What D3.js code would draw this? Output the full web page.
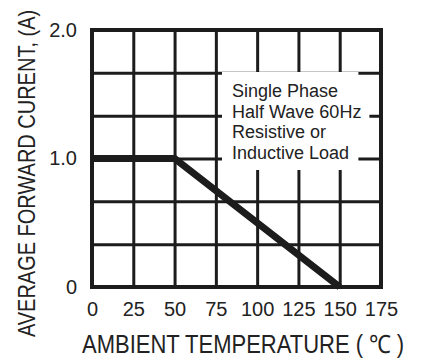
<!DOCTYPE html>
<html>
<head>
<meta charset="utf-8">
<script src="https://cdn.jsdelivr.net/npm/d3@7"></script>
<style>
  body { margin: 0; background: #fff; }
  text { font-family: "Liberation Sans", Arial, sans-serif; fill: #222; }
</style>
</head>
<body>
<div id="app"></div>
<script>

var tempTicks = [0, 25, 50, 75, 100, 125, 150, 175];
var currentTicks = [0, 1, 2];
var currentTickLabels = ["0", "1.0", "2.0"];
var currentGrid = [1/3, 2/3, 1, 4/3, 5/3];

// derating curve
var tempC = [0, 50, 150];
var currentA = [1.0, 1.0, 0];

var noteLines = ["Single Phase", "Half Wave 60Hz", "Resistive or", "Inductive Load"];

var svg = d3.select("#app")
    .append("svg")
    .attr("width", 424)
    .attr("height", 361);

var x = d3.scaleLinear().domain([0, 175]).range([92, 381]);
var y = d3.scaleLinear().domain([0, 2]).range([287, 30]);

var ink = "#1c1c1c";

// vertical grid + x labels
var xAxis = svg.append("g")
    .attr("transform", "translate(0," + y(0) + ")")
    .call(d3.axisBottom(x)
	  .tickValues(tempTicks)
	  .tickSize(-(y(0) - y(2)))
	  .tickPadding(15)
	  .tickFormat(d3.format("d")));
xAxis.select(".domain").remove();
xAxis.selectAll("line").attr("stroke", ink).attr("stroke-width", 3);
xAxis.selectAll("text").style("font-size", "20px").attr("fill", "#222");

// horizontal grid
var yGrid = svg.append("g")
    .attr("transform", "translate(" + x(0) + ",0)")
    .call(d3.axisLeft(y)
	  .tickValues(currentGrid)
	  .tickSize(-(x(175) - x(0)))
	  .tickFormat(""));
yGrid.select(".domain").remove();
yGrid.selectAll("line").attr("stroke", ink).attr("stroke-width", 3);

// y labels
var yAxis = svg.append("g")
    .attr("transform", "translate(" + x(0) + ",0)")
    .call(d3.axisLeft(y)
	  .tickValues(currentTicks)
	  .tickSize(0)
	  .tickPadding(15)
	  .tickFormat(function (d, i) { return currentTickLabels[i]; }));
yAxis.select(".domain").remove();
yAxis.selectAll("text").style("font-size", "20px").attr("fill", "#222");

// note box, white background knocks out the grid
var note = svg.append("g");
var noteText = note.selectAll("text")
    .data(noteLines)
    .enter()
    .append("text")
    .attr("x", 232)
    .attr("y", function (d, i) { return 97 + i * 20.5; })
    .style("font-size", "18px")
    .text(function (d) { return d; });

var bb = note.node().getBBox();
var widths = [];
noteText.each(function () { widths.push(this.getComputedTextLength()); });
note.insert("rect", "text")
    .attr("x", bb.x - 10)
    .attr("y", 72)
    .attr("width", d3.max(widths) - 3 + 10)
    .attr("height", 98)
    .attr("fill", "#fff");
note.insert("rect", "text")
    .attr("x", bb.x - 10)
    .attr("y", 105)
    .attr("width", widths[1] + 18)
    .attr("height", 18)
    .attr("fill", "#fff");

// frame
svg.append("rect")
    .attr("x", x(0))
    .attr("y", y(2))
    .attr("width", x(175) - x(0))
    .attr("height", y(0) - y(2))
    .attr("fill", "none")
    .attr("stroke", ink)
    .attr("stroke-width", 4);

// curve
var line = d3.line()
    .x(function (d, i) { return x(tempC[i]); })
    .y(function (d) { return y(d); });

svg.append("path")
    .datum(currentA)
    .attr("d", line)
    .attr("fill", "none")
    .attr("stroke", ink)
    .attr("stroke-width", 7)
    .attr("stroke-linejoin", "miter");

// axis titles (narrow look: smaller size, stretched tall)
svg.append("text")
    .attr("transform", "translate(82,353) scale(1,1.14)")
    .style("font-size", "22px")
    .text("AMBIENT TEMPERATURE ( \u2103 )");

svg.append("text")
    .attr("transform", "translate(35,173.5) rotate(-90) scale(1,1.2)")
    .attr("text-anchor", "middle")
    .style("font-size", "20px")
    .text("AVERAGE FORWARD CURENT, (A)");

</script>
</body>
</html>
